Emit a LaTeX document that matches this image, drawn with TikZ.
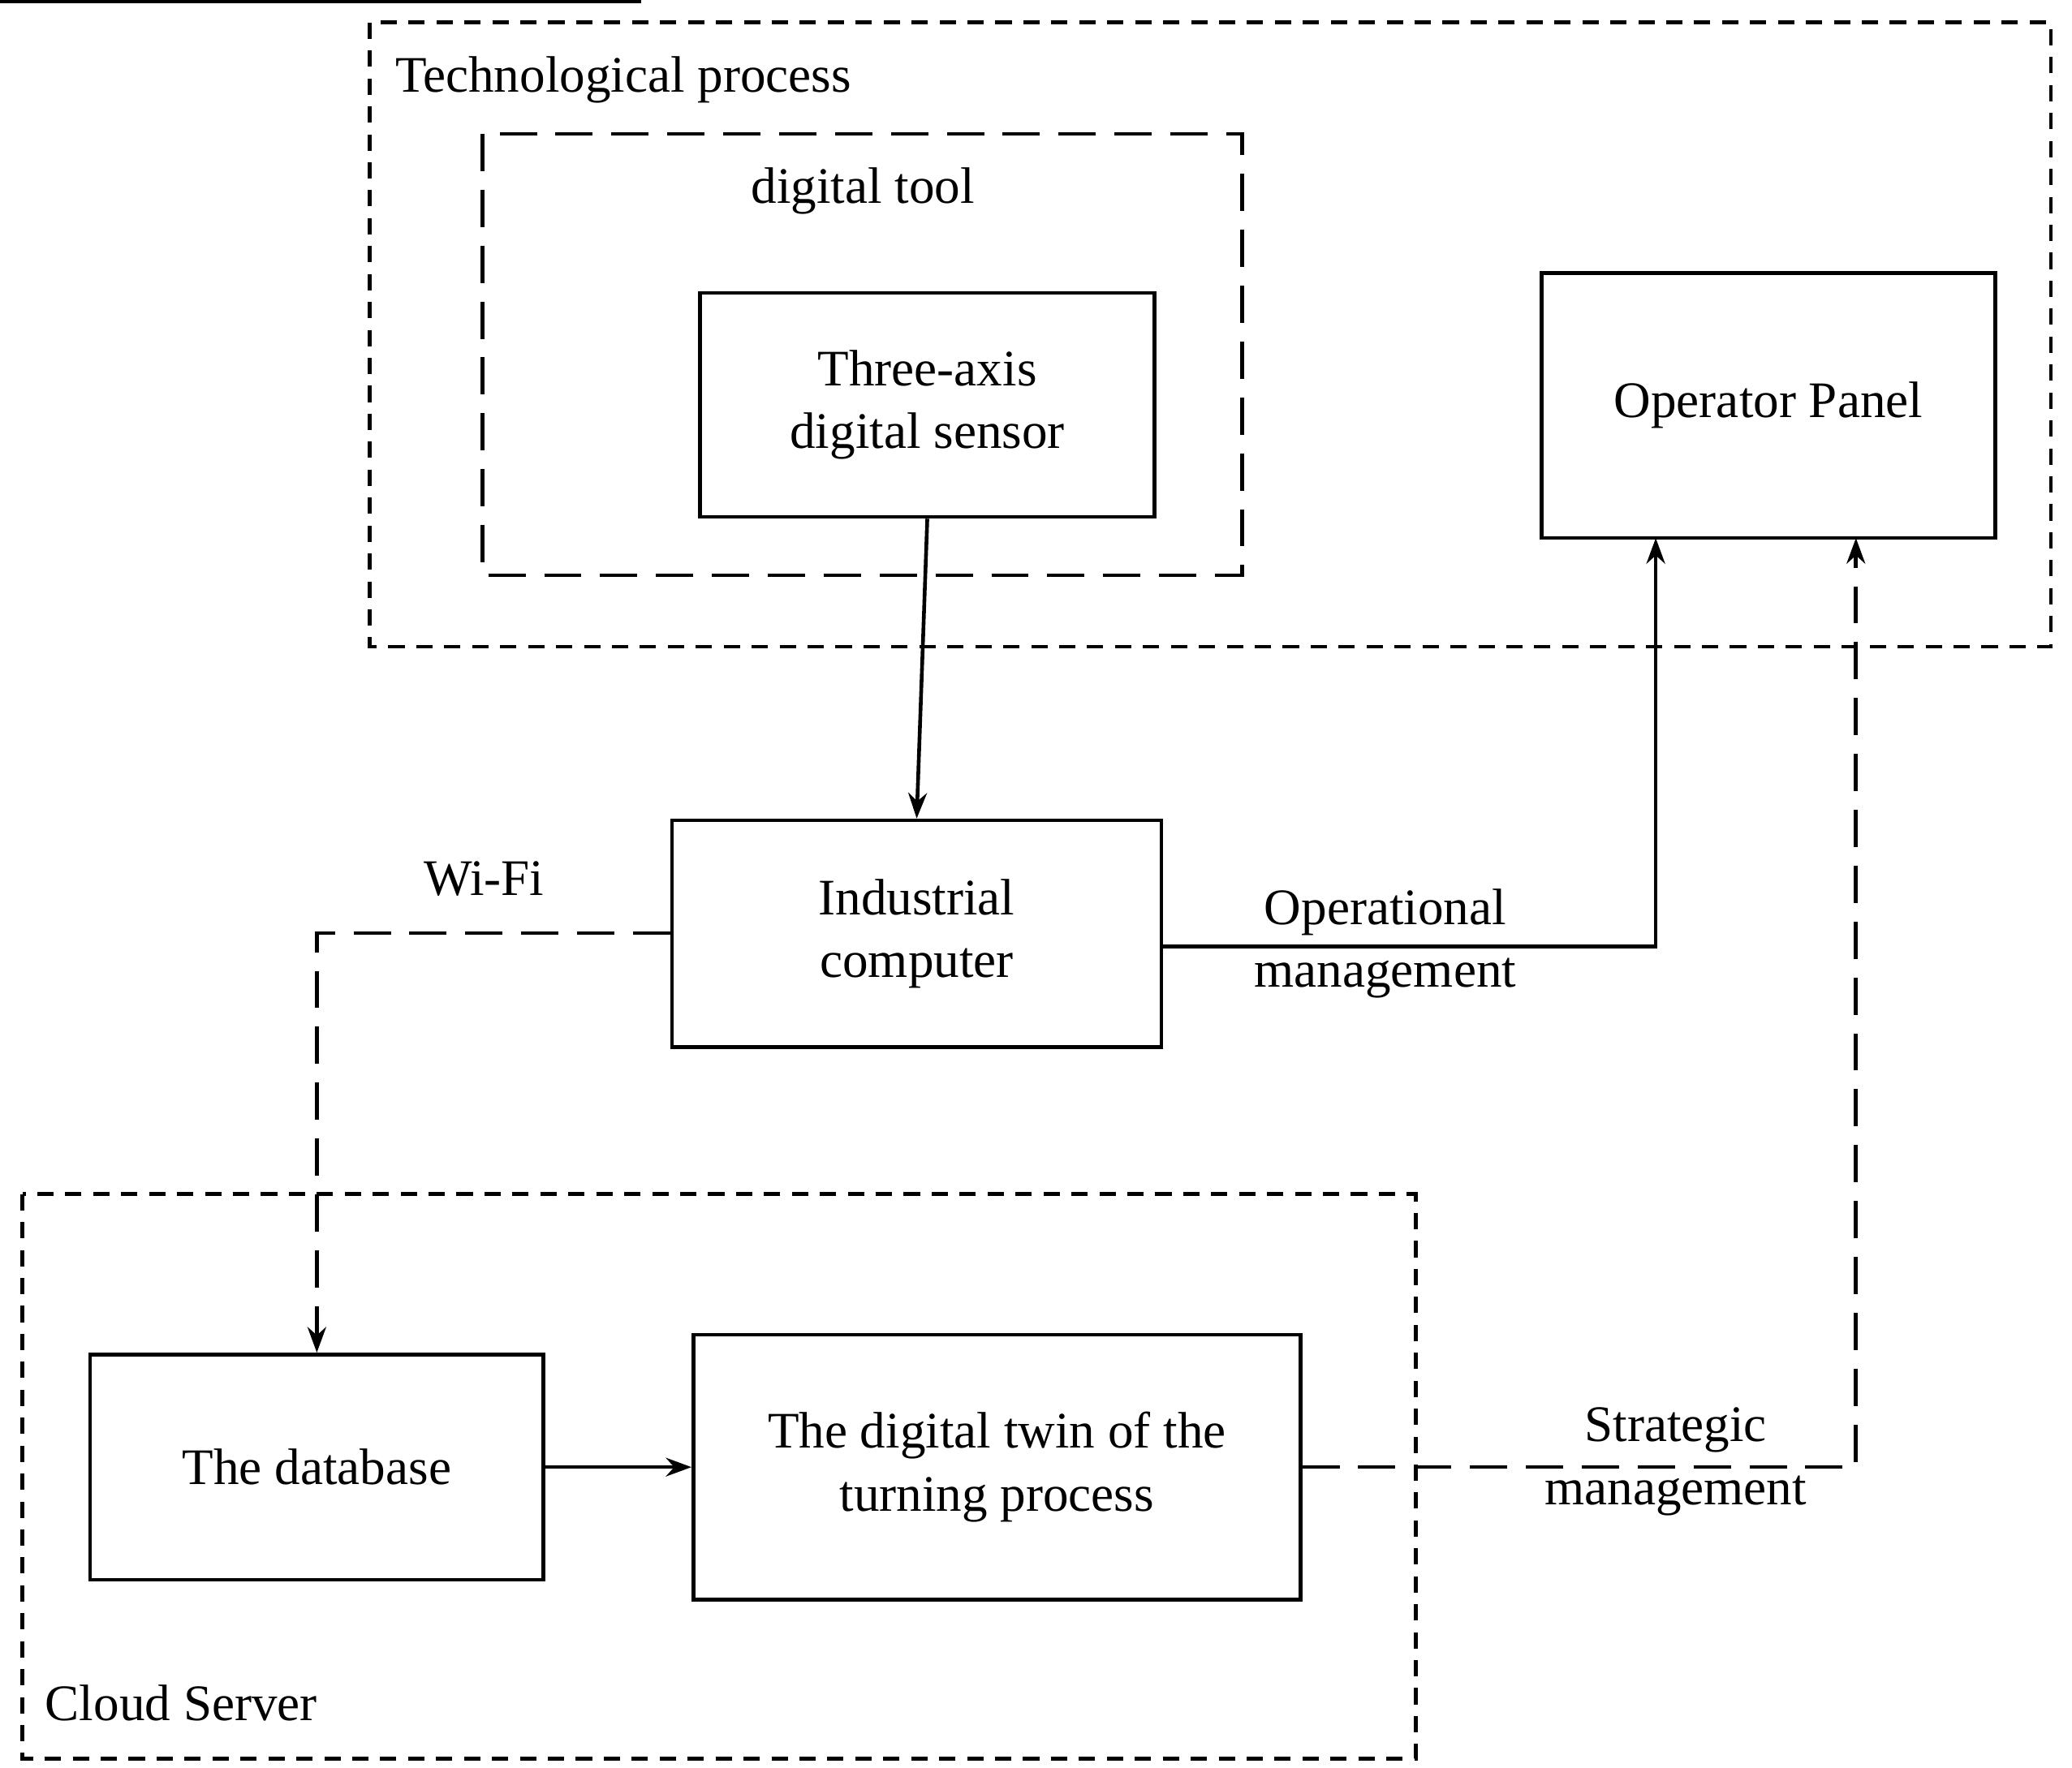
\documentclass[tikz,border=0pt]{standalone}
\usepackage{fontspec}
\setmainfont{Liberation Serif}
\usetikzlibrary{arrows.meta}
\begin{document}
\begin{tikzpicture}[x=0.02cm,y=-0.02cm,
 txt/.style={font=\fontsize{22}{27}\selectfont},
 box/.style={draw,line width=1.6pt,txt,align=center,inner sep=0},
 sdash/.style={draw,line width=1.6pt,dash pattern=on 7pt off 5pt},
 ldash/.style={draw,line width=1.6pt,dash pattern=on 16pt off 8pt},
 arr/.style={line width=1.6pt,-{Stealth[length=11pt,width=8pt]}}]
\useasboundingbox (0,0) rectangle (1563,1334);
\draw[sdash] (279,17) rectangle (1547,488);
\node[txt,anchor=west] (tp) at (292,60) {Technological process};
\draw[ldash] (364,101) rectangle (937,434);
\node[txt] (dt) at (651,144) {digital tool};
\draw[sdash] (17,901) rectangle (1068,1327);
\node[txt,anchor=west] (cs) at (28,1285) {Cloud Server};
\node[box,minimum width=343\pgflinewidth] at (0,0) {};
\node[box,minimum width=6.86cm,minimum height=3.38cm] (s) at (699.5,305.5) {Three-axis\\digital sensor};
\node[box,minimum width=6.84cm,minimum height=4cm] (op) at (1334,306) {Operator Panel};
\node[box,minimum width=7.38cm,minimum height=3.42cm] (ic) at (691.5,704.5) {Industrial\\computer};
\node[box,minimum width=6.84cm,minimum height=3.4cm] (db) at (239,1107) {The database};
\node[box,minimum width=9.16cm,minimum height=4cm] (tw) at (752,1107) {The digital twin of the\\turning process};
\draw[arr] (s.south) -- (ic.north);
\coordinate (c1) at (1249,714);
\draw[arr] (ic.east |- c1) -- (c1) -- (1249,406);
\node[txt,align=center] (om) at (1045,712) {Operational\\management};
\coordinate (w1) at (239,704);
\draw[ldash,arr] (ic.west |- w1) -- (w1) -- (db.north);
\node[txt] (wf) at (365,663) {Wi-Fi};
\draw[arr] (db) -- (tw);
\coordinate (t1) at (1400,1107);
\draw[ldash,arr] (tw.east) -- (t1) -- (1400,406);
\node[txt,align=center] (sm) at (1264,1103) {Strategic\\management};
\end{tikzpicture}
\end{document}
